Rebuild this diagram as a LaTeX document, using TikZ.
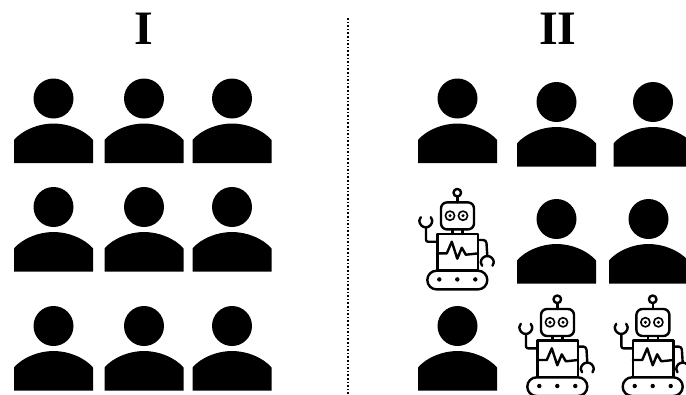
\documentclass[tikz,border=0pt]{standalone}
\usepackage{fontspec}
\setmainfont{Liberation Serif}
\tikzset{
  x=1pt,y=-1pt,
  title/.style={font=\bfseries\fontsize{48}{48}\selectfont,inner sep=0pt,anchor=base},
  rline/.style={line width=2.4pt,line cap=round,line join=round},
  pics/person/.style={code={
    \fill (0,0) circle[radius=20];
    \fill (-39.5,41.5) -- (-39.5,64.5) -- (39.5,64.5) -- (39.5,41.5)
      .. controls (31,31.5) and (15,25) .. (0,25)
      .. controls (-15,25) and (-31,31.5) .. (-39.5,41.5) -- cycle;
  }},
  pics/robot/.style={code={
    \begin{scope}[rline]
      \draw (0,0) circle[radius=3.8];
      \draw (0,3.8) -- (0,9.7);
      \draw[rounded corners=6pt] (-16.3,9.7) rectangle (16.7,36.7);
      \draw[line width=1.6pt] (-7.3,23) circle[radius=4.6];
      \draw[line width=1.6pt] (5.7,23) circle[radius=4.6];
      \fill (-7.3,23) circle[radius=1.7];
      \fill (5.7,23) circle[radius=1.7];
      \draw (-5,36.7) -- (-5,41.3);
      \draw (5,36.7) -- (5,41.3);
      \draw (-20,41.3) rectangle (20.7,77.5);
      \draw (-20,60.7) -- (-10.5,60.7) -- (-5.5,49) -- (0,66) -- (4.5,55) -- (8.5,62) -- (20.7,60.7);
      \draw[rounded corners=9.3pt] (-30,78) rectangle (30,96.7);
      \fill (-18,86.7) circle[radius=2.2];
      \fill (0,86.7) circle[radius=2.2];
      \fill (18,86.7) circle[radius=2.2];
      \draw[rounded corners=2pt] (-20,49) -- (-31.3,49) -- (-31.3,34.7);
      \draw (-36.5,24.5) .. controls (-37.6,25.5) and (-38,26.5) .. (-38,27.8)
        .. controls (-38,31.5) and (-35,34.7) .. (-31.5,34.7)
        .. controls (-28,34.7) and (-25,31.5) .. (-25,27.8)
        .. controls (-25,26.5) and (-25.4,25.5) .. (-26.5,24.5);
      \draw[rounded corners=3pt] (20.7,47.3) -- (29,47.3) -- (30,63.3);
      \draw (24.8,73) .. controls (23.8,72) and (23.5,71) .. (23.5,69.8)
        .. controls (23.5,66.2) and (26.5,63.3) .. (30,63.3)
        .. controls (33.5,63.3) and (36.5,66.2) .. (36.5,69.8)
        .. controls (36.5,71) and (36.2,72) .. (35.2,73);
    \end{scope}
  }}
}
\begin{document}
\begin{tikzpicture}
\useasboundingbox (0,0) rectangle (686,394);
\clip (0,0) rectangle (686,394);
\fill[white] (0,0) rectangle (686,394);
\node[title] (t1) at (144,44) {I};
\node[title] (t2) at (558,44) {II};
\draw[line width=1.6pt,dotted] (348,18) -- (348,394);
% left panel
\pic at (53.5,98.5) {person};
\pic at (144,98.5) {person};
\pic at (232,98.5) {person};
\pic at (53.5,207) {person};
\pic at (144,207) {person};
\pic at (232,207) {person};
\pic at (53.5,326) {person};
\pic at (144,326) {person};
\pic at (232,326) {person};
% right panel
\pic at (457.5,98.5) {person};
\pic at (556.5,102) {person};
\pic at (653,102) {person};
\pic at (457.3,192.7) {robot};
\pic at (556.5,219) {person};
\pic at (648.5,219) {person};
\pic at (457.5,326) {person};
\pic at (557.3,299.3) {robot};
\pic at (652.7,299.3) {robot};
\end{tikzpicture}
\end{document}
